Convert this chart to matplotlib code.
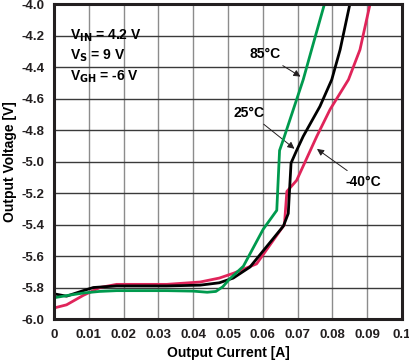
import matplotlib
matplotlib.use("Agg")
import matplotlib.pyplot as plt
import numpy as np

plt.rcParams["font.family"] = ["Liberation Sans", "DejaVu Sans"]
plt.rcParams["font.weight"] = "bold"

# output current [A] / output voltage [V] per temperature
x_85 = [0.0, 0.004, 0.0084, 0.013, 0.018, 0.0324, 0.040, 0.0440, 0.0465, 0.0485, 0.0505,
        0.0544, 0.0601, 0.064, 0.0648, 0.0659, 0.0716, 0.074, 0.0777]
y_85 = [-5.865, -5.85, -5.835, -5.825, -5.82, -5.82, -5.823, -5.83, -5.825, -5.795, -5.745,
        -5.665, -5.43, -5.31, -4.93, -4.86, -4.48, -4.29, -4.0]

x_25 = [0.0, 0.0036, 0.0084, 0.0113, 0.018, 0.0324, 0.042, 0.0475, 0.0515, 0.0563, 0.0659,
        0.0673, 0.0681, 0.0697, 0.0716, 0.0764, 0.0798, 0.0822, 0.085]
y_25 = [-5.84, -5.855, -5.82, -5.80, -5.79, -5.79, -5.785, -5.77, -5.74, -5.67, -5.41,
        -5.33, -5.01, -4.93, -4.84, -4.65, -4.48, -4.29, -4.0]

x_m40 = [0.0, 0.0036, 0.0084, 0.0132, 0.018, 0.0324, 0.042, 0.0475, 0.0515, 0.0582, 0.0662,
         0.0669, 0.0697, 0.0755, 0.0793, 0.0846, 0.0879, 0.0908]
y_m40 = [-5.93, -5.91, -5.85, -5.80, -5.78, -5.78, -5.765, -5.74, -5.71, -5.65, -5.40,
         -5.19, -5.12, -4.84, -4.67, -4.48, -4.29, -4.0]

x_ticks = [0, 0.01, 0.02, 0.03, 0.04, 0.05, 0.06, 0.07, 0.08, 0.09, 0.1]
x_labels = ["0", "0.01", "0.02", "0.03", "0.04", "0.05", "0.06", "0.07", "0.08", "0.09", "0.1"]
y_ticks = np.round(np.arange(-6.0, -3.99, 0.2), 1)

fig = plt.figure(figsize=(4.1, 3.64), dpi=100)
ax = fig.add_axes([0.1317, 0.1236, 0.849, 0.8654])

# grid: vertical lighter, horizontal darker
for xv in x_ticks[1:-1]:
    ax.axvline(xv, color="#8c8c8c", lw=1.0, zorder=1)
for yv in y_ticks[1:-1]:
    ax.axhline(yv, color="#3a3a3a", lw=1.0, zorder=1)

ax.plot(x_m40, y_m40, color="#e0245a", lw=2.0, zorder=3, solid_joinstyle="round")
ax.plot(x_25, y_25, color="#000000", lw=2.0, zorder=4, solid_joinstyle="round")
ax.plot(x_85, y_85, color="#009a4e", lw=2.0, zorder=5, solid_joinstyle="round")

ax.set_xlim(0, 0.1)
ax.set_ylim(-6.0, -4.0)
ax.set_xticks(x_ticks)
ax.set_xticklabels(x_labels)
ax.set_yticks(y_ticks)
ax.set_yticklabels(["%.1f" % v for v in y_ticks])
ax.tick_params(length=0, labelsize=9.5, pad=7, colors="#231f20")
ax.set_xlabel("Output Current [A]", fontsize=10, fontweight="bold", labelpad=4)
ax.set_ylabel("Output Voltage [V]", fontsize=10, fontweight="bold", labelpad=3)
for s in ax.spines.values():
    s.set_linewidth(2.2)
    s.set_color("#231f20")
    s.set_zorder(6)

# conditions
ax.text(0.0045, -4.2, r"V$_{\mathbf{IN}}$ = 4.2 V", fontsize=10, fontweight="bold", va="center")
ax.text(0.0045, -4.33, r"V$_{\mathbf{S}}$ = 9 V", fontsize=10, fontweight="bold", va="center")
ax.text(0.0045, -4.46, r"V$_{\mathbf{GH}}$ = -6 V", fontsize=10, fontweight="bold", va="center")

arrow = dict(arrowstyle="-|>", color="#231f20", lw=0.7, mutation_scale=10)
ax.annotate("85°C", xy=(0.0715, -4.47), xytext=(0.0605, -4.32), fontsize=10,
            fontweight="bold", ha="center", va="center", arrowprops=arrow)
ax.annotate("25°C", xy=(0.0697, -4.93), xytext=(0.0561, -4.69), fontsize=10,
            fontweight="bold", ha="center", va="center", arrowprops=arrow)
ax.annotate("-40°C", xy=(0.0749, -4.91), xytext=(0.0888, -5.13), fontsize=10,
            fontweight="bold", ha="center", va="center", arrowprops=arrow)

plt.savefig("out.png", dpi=100)
